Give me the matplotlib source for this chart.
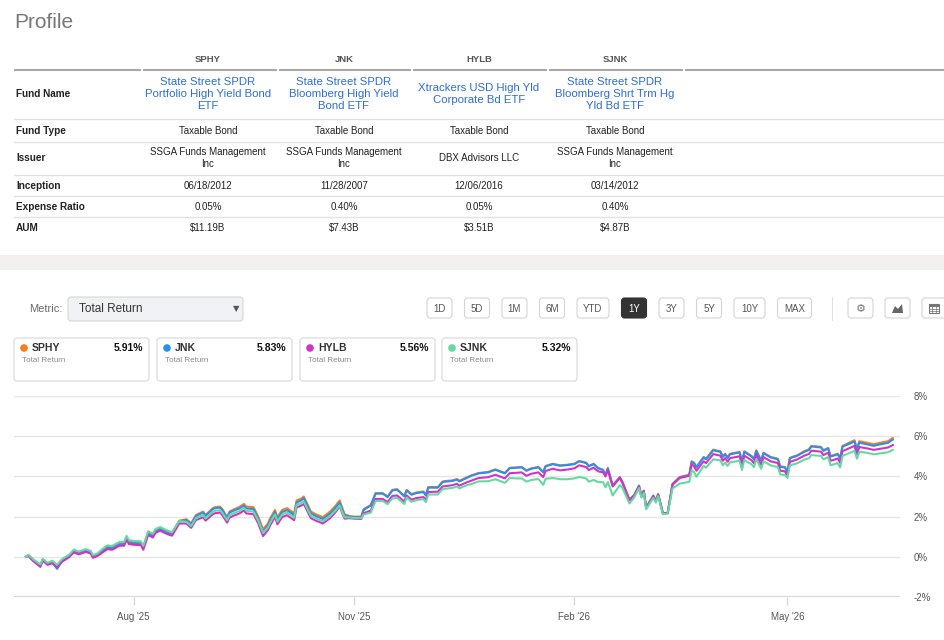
import pandas as pd
import matplotlib
matplotlib.use("Agg")
import matplotlib.pyplot as plt
import matplotlib.dates as mdates
from matplotlib.patches import FancyBboxPatch, Circle, Polygon, Rectangle

plt.rcParams['font.family'] = ['Liberation Sans', 'DejaVu Sans']

# ---- profile table ----
tickers = ['SPHY', 'JNK', 'HYLB', 'SJNK']
fund_names = ['State Street SPDR\nPortfolio High Yield Bond\nETF',
              'State Street SPDR\nBloomberg High Yield\nBond ETF',
              'Xtrackers USD High Yld\nCorporate Bd ETF',
              'State Street SPDR\nBloomberg Shrt Trm Hg\nYld Bd ETF']
fund_types = ['Taxable Bond', 'Taxable Bond', 'Taxable Bond', 'Taxable Bond']
issuers = ['SSGA Funds Management\nInc', 'SSGA Funds Management\nInc',
           'DBX Advisors LLC', 'SSGA Funds Management\nInc']
inceptions = ['06/18/2012', '11/28/2007', '12/06/2016', '03/14/2012']
expense_ratios = ['0.05%', '0.40%', '0.05%', '0.40%']
aums = ['$11.19B', '$7.43B', '$3.51B', '$4.87B']
total_returns = [5.91, 5.83, 5.56, 5.32]
colors = ['#fb7d1a', '#2592f2', '#d631c7', '#66d9a1']

periods = ['1D', '5D', '1M', '6M', 'YTD', '1Y', '3Y', '5Y', '10Y', 'MAX']
active_period = '1Y'

# ---- total return series (%), days since 2025-06-17 ----
start = pd.Timestamp('2025-06-17')
days = [0, 1, 3, 6, 7, 9, 11, 13, 15, 18,
        20, 22, 24, 25, 27, 28, 30, 32, 34, 36,
        38, 39, 41, 42, 43, 45, 48, 49, 51, 53,
        54, 56, 59, 61, 64, 66, 67, 69, 71, 74,
        75, 78, 79, 81, 82, 84, 85, 87, 89, 91,
        92, 95, 97, 99, 101, 102, 104, 105, 107, 109,
        112, 113, 115, 116, 119, 121, 124, 127, 129, 131,
        133, 135, 137, 140, 141, 144, 146, 149, 151, 153,
        155, 158, 159, 161, 163, 166, 167, 168, 172, 174,
        176, 178, 180, 181, 184, 186, 189, 193, 196, 200,
        202, 205, 207, 209, 211, 214, 216, 217, 220, 223,
        226, 229, 231, 234, 235, 237, 239, 241, 242, 243,
        245, 248, 249, 252, 254, 256, 257, 258, 259, 262,
        263, 264, 266, 268, 270, 273, 277, 278, 279, 280,
        283, 284, 287, 290, 291, 292, 293, 294, 298, 299,
        300, 303, 304, 305, 307, 308, 311, 314, 315, 317,
        318, 319, 322, 325, 327, 328, 332, 333, 335, 336,
        337, 339, 340, 341, 343, 346, 347, 348, 351, 354,
        357, 360, 362]

sphy = [0.00, 0.08, -0.15, -0.42, -0.13, -0.33, -0.25, -0.45, -0.17, 0.05,
        0.30, 0.20, 0.28, 0.33, 0.25, 0.03, 0.13, 0.33, 0.50, 0.47,
        0.60, 0.67, 0.67, 0.97, 0.75, 0.72, 0.70, 0.47, 1.20, 1.08,
        1.30, 1.42, 1.25, 1.17, 1.80, 1.85, 1.87, 1.67, 2.08, 2.25,
        2.08, 2.42, 2.47, 2.50, 2.37, 1.97, 2.25, 2.37, 2.47, 2.63,
        2.50, 2.47, 2.00, 1.37, 1.65, 1.92, 2.33, 1.97, 2.33, 2.42,
        2.17, 2.80, 2.90, 3.00, 2.25, 2.12, 1.97, 2.25, 2.50, 2.80,
        2.13, 2.03, 2.00, 2.00, 2.37, 2.58, 3.17, 3.17, 3.00, 3.33,
        3.37, 3.03, 3.33, 3.12, 3.20, 3.25, 3.08, 3.47, 3.47, 3.75,
        3.78, 3.80, 3.87, 3.78, 3.95, 4.05, 4.17, 4.22, 4.35, 4.17,
        4.43, 4.45, 4.47, 4.30, 4.40, 4.47, 4.22, 4.52, 4.63, 4.55,
        4.58, 4.63, 4.77, 4.68, 4.52, 4.63, 4.42, 4.33, 4.08, 4.42,
        3.55, 3.97, 3.75, 2.85, 3.08, 3.55, 3.05, 3.30, 2.47, 3.05,
        2.80, 3.13, 2.18, 2.18, 3.63, 3.97, 4.08, 4.75, 4.68, 4.47,
        4.97, 4.88, 5.33, 5.25, 5.00, 5.13, 4.95, 5.13, 5.22, 4.75,
        5.25, 5.02, 4.88, 5.30, 4.80, 5.18, 4.97, 4.88, 4.50, 4.47,
        4.22, 4.93, 5.05, 5.25, 5.35, 5.52, 5.47, 5.30, 5.42, 5.02,
        5.05, 5.13, 4.92, 5.52, 5.63, 5.80, 5.38, 5.75, 5.68, 5.60,
        5.68, 5.75, 5.91]

jnk = [0.00, 0.06, -0.18, -0.45, -0.16, -0.36, -0.28, -0.60, -0.22, 0.01,
       0.26, 0.17, 0.24, 0.29, 0.21, 0.00, 0.10, 0.28, 0.45, 0.42,
       0.55, 0.62, 0.62, 0.92, 0.70, 0.67, 0.65, 0.42, 1.15, 1.03,
       1.25, 1.37, 1.20, 1.12, 1.76, 1.81, 1.82, 1.62, 2.03, 2.20,
       2.03, 2.37, 2.42, 2.45, 2.32, 1.92, 2.20, 2.31, 2.40, 2.55,
       2.41, 2.37, 1.90, 1.25, 1.55, 1.82, 2.23, 1.87, 2.23, 2.32,
       2.07, 2.70, 2.81, 2.92, 2.16, 2.03, 1.88, 2.15, 2.40, 2.70,
       2.05, 2.00, 1.97, 1.96, 2.33, 2.55, 3.14, 3.14, 2.97, 3.30,
       3.34, 3.00, 3.30, 3.09, 3.17, 3.22, 3.05, 3.44, 3.44, 3.72,
       3.75, 3.77, 3.84, 3.75, 3.92, 4.03, 4.15, 4.20, 4.33, 4.15,
       4.41, 4.43, 4.45, 4.28, 4.38, 4.45, 4.20, 4.50, 4.61, 4.53,
       4.56, 4.61, 4.75, 4.66, 4.50, 4.61, 4.40, 4.31, 4.06, 4.40,
       3.53, 3.95, 3.73, 2.83, 3.06, 3.53, 3.03, 3.27, 2.45, 3.03,
       2.78, 3.10, 2.16, 2.17, 3.61, 3.95, 4.06, 4.73, 4.66, 4.45,
       4.94, 4.85, 5.30, 5.22, 4.97, 5.10, 4.92, 5.10, 5.19, 4.72,
       5.22, 4.99, 4.85, 5.27, 4.77, 5.15, 4.94, 4.85, 4.47, 4.44,
       4.19, 4.90, 5.02, 5.22, 5.32, 5.49, 5.44, 5.27, 5.39, 4.99,
       5.02, 5.10, 4.89, 5.48, 5.58, 5.74, 5.32, 5.68, 5.60, 5.52,
       5.60, 5.67, 5.83]

hylb = [0.00, 0.04, -0.21, -0.50, -0.19, -0.40, -0.32, -0.52, -0.25, -0.02,
        0.22, 0.12, 0.20, 0.24, 0.16, -0.05, 0.05, 0.22, 0.38, 0.35,
        0.48, 0.55, 0.55, 0.85, 0.63, 0.60, 0.58, 0.35, 1.08, 0.96,
        1.18, 1.30, 1.13, 1.05, 1.65, 1.66, 1.65, 1.44, 1.83, 1.97,
        1.80, 2.12, 2.17, 2.20, 2.07, 1.70, 1.95, 2.06, 2.15, 2.30,
        2.16, 2.12, 1.66, 1.03, 1.32, 1.57, 1.98, 1.62, 1.98, 2.07,
        1.82, 2.45, 2.55, 2.63, 1.92, 1.80, 1.66, 1.92, 2.18, 2.50,
        1.90, 1.92, 1.90, 1.88, 2.17, 2.30, 2.88, 2.88, 2.72, 3.03,
        3.05, 2.75, 3.05, 2.84, 2.92, 2.97, 2.82, 3.22, 3.24, 3.50,
        3.53, 3.56, 3.63, 3.54, 3.70, 3.79, 3.92, 3.96, 4.08, 3.90,
        4.16, 4.18, 4.20, 4.03, 4.13, 4.20, 3.96, 4.27, 4.38, 4.30,
        4.34, 4.40, 4.55, 4.46, 4.32, 4.43, 4.25, 4.20, 4.00, 4.30,
        3.50, 3.92, 3.70, 2.80, 3.03, 3.50, 3.00, 3.25, 2.42, 3.00,
        2.75, 3.08, 2.14, 2.20, 3.58, 3.92, 4.03, 4.60, 4.50, 4.28,
        4.75, 4.66, 5.11, 5.03, 4.78, 4.91, 4.73, 4.91, 5.00, 4.53,
        5.03, 4.80, 4.66, 5.08, 4.58, 4.96, 4.75, 4.66, 4.28, 4.25,
        4.02, 4.72, 4.84, 5.03, 5.12, 5.28, 5.23, 5.06, 5.18, 4.78,
        4.81, 4.89, 4.68, 5.26, 5.36, 5.52, 5.10, 5.46, 5.40, 5.32,
        5.38, 5.44, 5.56]

sjnk = [0.00, 0.10, -0.12, -0.38, -0.10, -0.30, -0.20, -0.40, -0.12, 0.10,
        0.36, 0.26, 0.34, 0.38, 0.30, 0.08, 0.18, 0.40, 0.57, 0.54,
        0.67, 0.74, 0.74, 1.04, 0.82, 0.79, 0.77, 0.54, 1.27, 1.15,
        1.37, 1.48, 1.31, 1.22, 1.78, 1.75, 1.74, 1.53, 1.92, 2.08,
        1.91, 2.24, 2.29, 2.32, 2.19, 1.82, 2.07, 2.18, 2.27, 2.43,
        2.29, 2.25, 1.80, 1.20, 1.45, 1.70, 2.11, 1.75, 2.11, 2.20,
        1.95, 2.58, 2.67, 2.75, 2.04, 1.91, 1.77, 2.03, 2.27, 2.55,
        1.97, 1.96, 1.93, 1.92, 2.10, 2.20, 2.78, 2.78, 2.62, 2.90,
        2.93, 2.63, 2.95, 2.74, 2.82, 2.87, 2.72, 3.10, 3.10, 3.37,
        3.40, 3.42, 3.50, 3.40, 3.56, 3.62, 3.75, 3.76, 3.86, 3.68,
        3.92, 3.90, 3.90, 3.74, 3.82, 3.87, 3.58, 3.88, 3.92, 3.86,
        3.86, 3.90, 3.97, 3.90, 3.74, 3.82, 3.72, 3.71, 3.46, 3.72,
        3.05, 3.57, 3.45, 2.65, 2.95, 3.42, 2.95, 3.18, 2.37, 2.93,
        2.70, 3.02, 2.12, 2.15, 3.40, 3.64, 3.73, 4.30, 4.22, 3.98,
        4.52, 4.43, 4.85, 4.80, 4.56, 4.68, 4.52, 4.70, 4.78, 4.32,
        4.82, 4.60, 4.46, 4.87, 4.38, 4.75, 4.55, 4.46, 4.10, 4.07,
        3.92, 4.55, 4.65, 4.83, 4.91, 5.06, 5.02, 4.85, 4.96, 4.56,
        4.59, 4.66, 4.45, 5.02, 5.12, 5.27, 4.88, 5.22, 5.18, 5.10,
        5.15, 5.20, 5.32]

series = [sphy, jnk, hylb, sjnk]
dates = start + pd.to_timedelta(days, unit='D')

fig = plt.figure(figsize=(9.45, 6.4), dpi=100)
fig.patch.set_facecolor('white')

# page layer in pixel units
ui = fig.add_axes([0, 0, 1, 1])
ui.set_xlim(0, 945)
ui.set_ylim(640, 0)
ui.axis('off')

ui.text(14, 23, 'Profile', fontsize=15, color='#777777', va='center')

col_x = [208, 344, 479, 615]
for i, t in enumerate(tickers):
    ui.text(col_x[i], 59, t, fontsize=6.8, weight='bold', color='#555555',
            ha='center', va='center')

# header rule, broken at column edges
for x0, x1 in [(14, 141), (143, 277), (279, 411), (413, 547), (549, 683), (685, 945)]:
    ui.plot([x0, x1], [70, 70], color='#a8a8a8', lw=1.5, solid_capstyle='butt')
for yl in [119, 142, 175, 196, 217]:
    ui.plot([14, 945], [yl, yl], color='#e2e2e2', lw=1)

rows = [('Fund Name', 94, fund_names),
        ('Fund Type', 131, fund_types),
        ('Issuer', 158, issuers),
        ('Inception', 186, inceptions),
        ('Expense Ratio', 207, expense_ratios),
        ('AUM', 228, aums)]
for label, yc, vals in rows:
    ui.text(16, yc, label, fontsize=7.2, weight='bold', color='#222222', va='center')
    for i, v in enumerate(vals):
        if label == 'Fund Name':
            ui.text(col_x[i], yc, v, fontsize=8.2, color='#2b6ed8', ha='center',
                    va='center', linespacing=1.3)
        else:
            ui.text(col_x[i], yc, v, fontsize=7, color='#222222', ha='center',
                    va='center', linespacing=1.25)

# section divider band
ui.add_patch(Rectangle((0, 255), 945, 15, facecolor='#f4f0ef', edgecolor='none'))

# metric dropdown
ui.text(62, 309, 'Metric:', fontsize=8, color='#6a6a6a', ha='right', va='center')
ui.add_patch(FancyBboxPatch((68, 297), 175, 24, boxstyle='round,pad=0,rounding_size=3',
                            facecolor='#f1f2f5', edgecolor='#d6d6d6', lw=0.8))
ui.text(79, 309, 'Total Return', fontsize=8.5, color='#333333', va='center')
ui.text(236, 309, '\u25bc', fontsize=6, color='#555555', ha='center', va='center',
        family=['DejaVu Sans'])

# period buttons
bx = 427
for p in periods:
    w = 25 if len(p) < 3 else (32 if p != 'MAX' else 34)
    if p == '10Y':
        w = 31
    active = p == active_period
    ui.add_patch(FancyBboxPatch((bx, 298), w, 20, boxstyle='round,pad=0,rounding_size=3',
                                facecolor='#333333' if active else 'white',
                                edgecolor='#333333' if active else '#d4d4d4', lw=0.8))
    ui.text(bx + w / 2, 308.5, p, fontsize=7, color='white' if active else '#555555',
            ha='center', va='center')
    bx += w + 12.5
ui.plot([832, 832], [297, 320], color='#e2e2e2', lw=0.8)

# tool icons
for x0 in [848, 885, 922]:
    ui.add_patch(FancyBboxPatch((x0, 298), 25, 20, boxstyle='round,pad=0,rounding_size=3',
                                facecolor='white', edgecolor='#d4d4d4', lw=0.8))
ui.text(860.5, 308.5, '\u2699', fontsize=8, color='#777777', ha='center', va='center',
        family=['DejaVu Sans'])
ui.add_patch(Polygon([(892, 313), (895, 306), (898, 309), (902, 304), (903, 313)],
                     closed=True, facecolor='#666666', edgecolor='none'))
ui.add_patch(Rectangle((929, 304), 10, 9, facecolor='white', edgecolor='#777777', lw=0.8))
ui.add_patch(Rectangle((929, 304), 10, 2.5, facecolor='#777777', edgecolor='none'))
for gx in [932.3, 935.7]:
    ui.plot([gx, gx], [306, 313], color='#777777', lw=0.5)
for gy in [308.5, 311]:
    ui.plot([929, 939], [gy, gy], color='#777777', lw=0.5)

# legend cards
card_x = [14, 157, 300, 442]
for i, t in enumerate(tickers):
    x0 = card_x[i]
    ui.add_patch(FancyBboxPatch((x0, 338), 135, 43, boxstyle='round,pad=0,rounding_size=3',
                                facecolor='white', edgecolor='#d8d8d8', lw=0.8))
    ui.add_patch(Circle((x0 + 10, 348), 3.8, facecolor=colors[i], edgecolor='none'))
    ui.text(x0 + 18, 348, t, fontsize=7.5, weight='bold', color='#333333', va='center')
    ui.text(x0 + 129, 348, '%.2f%%' % total_returns[i], fontsize=7.5, weight='bold',
            color='#111111', ha='right', va='center')
    ui.text(x0 + 8, 361, 'Total Return', fontsize=5.8, color='#8a8a8a', va='center')

# chart
ax = fig.add_axes([14 / 945, 1 - 597 / 640, 886 / 945, 201 / 640])
ax.set_facecolor('none')
for i in range(len(series)):
    ax.plot(dates, series[i], color=colors[i], lw=1.5, solid_joinstyle='round', zorder=3 + i)

ax.set_ylim(-2, 8)
ax.set_yticks([-2, 0, 2, 4, 6, 8])
ax.set_yticklabels(['-2%', '0%', '2%', '4%', '6%', '8%'])
ax.yaxis.tick_right()
ax.tick_params(axis='y', length=0, pad=10, labelsize=7, labelcolor='#555555')
ax.grid(axis='y', color='#e6e6e6', lw=1)
ax.axhline(-2, color='#d8d8dc', lw=1.6, zorder=2)

ax.set_xlim(start - pd.Timedelta(days=5), start + pd.Timedelta(days=365))
ax.set_xticks(pd.to_datetime(['2025-08-01', '2025-11-01', '2026-02-01', '2026-05-01']))
ax.xaxis.set_major_formatter(mdates.DateFormatter("%b '%y"))
ax.tick_params(axis='x', length=6, width=1, color='#d8d8dc', pad=5,
               labelsize=7, labelcolor='#555555')
for s in ax.spines.values():
    s.set_visible(False)

fig.savefig('out.png', dpi=100, facecolor='white')
